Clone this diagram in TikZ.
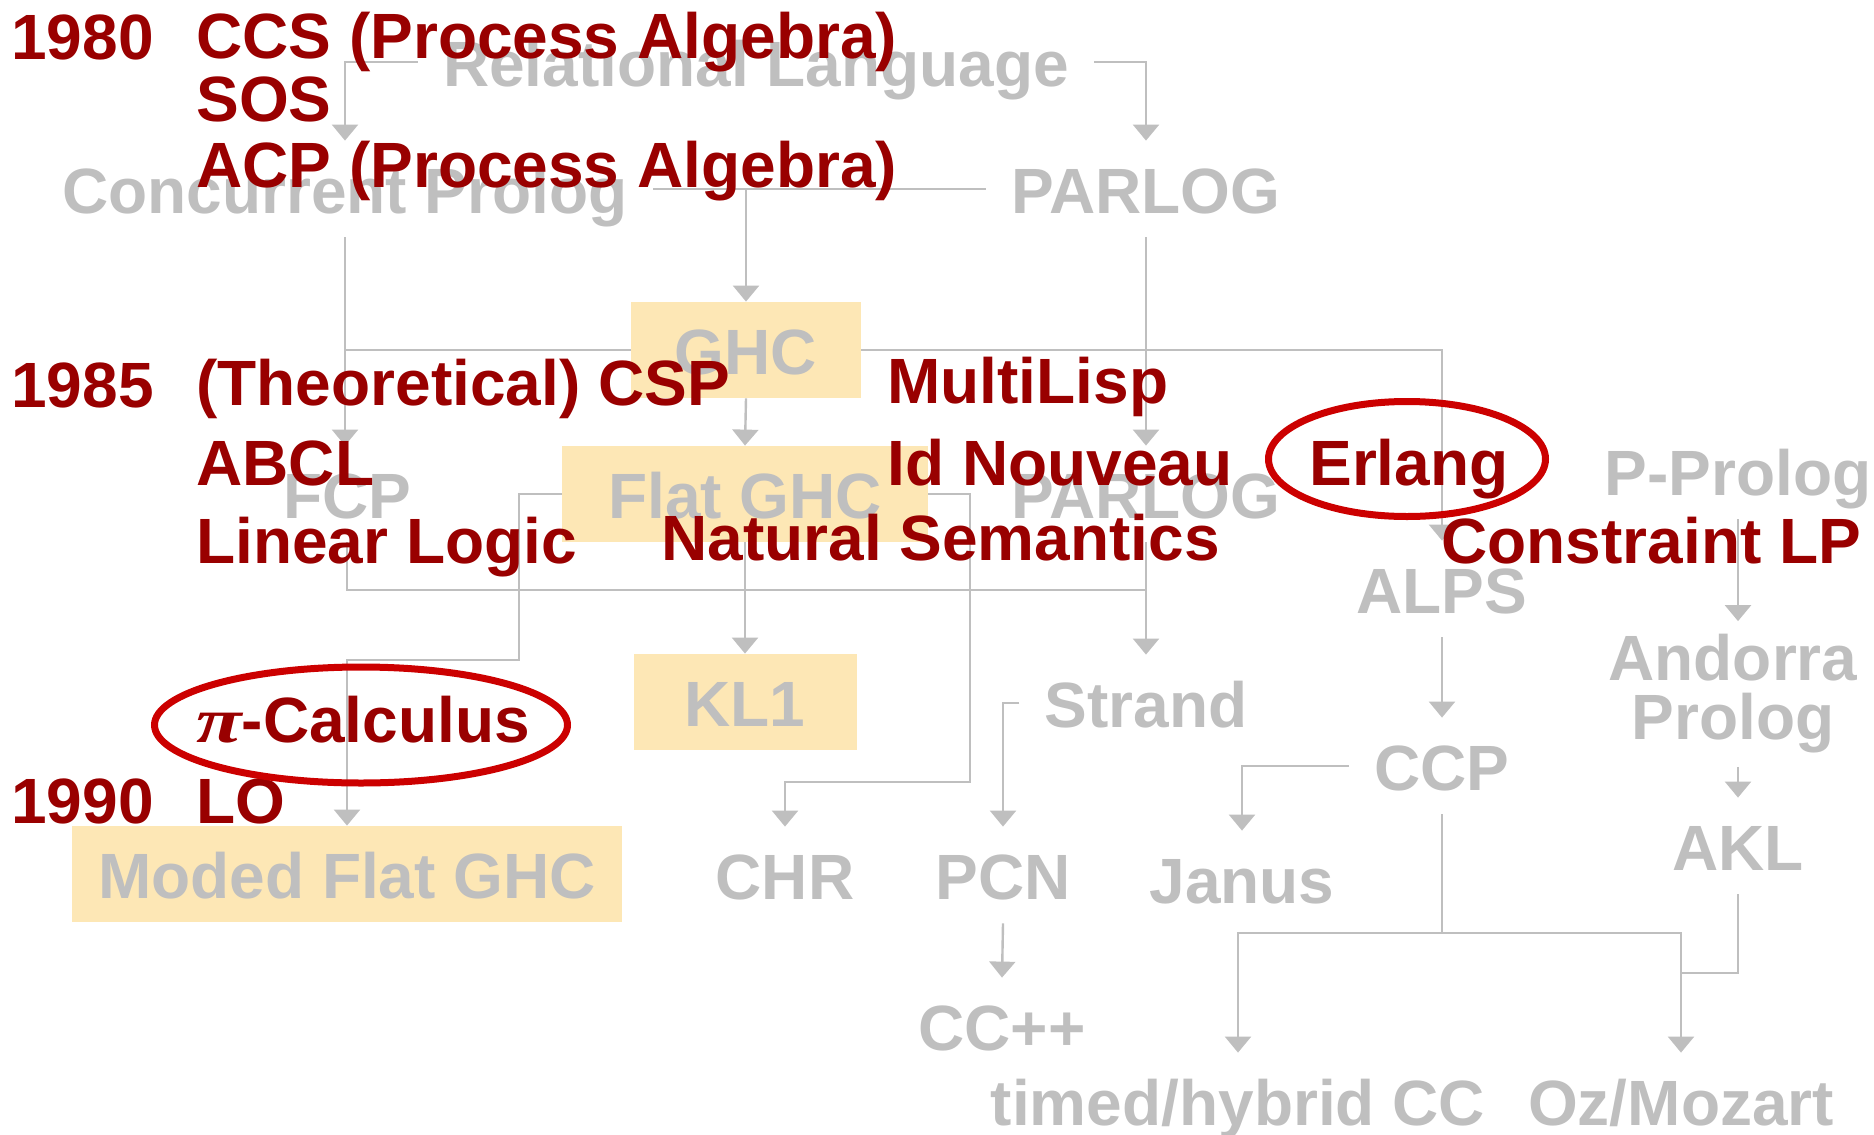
\documentclass[tikz,border=0pt]{standalone}
\usepackage{fontspec}
\setmainfont{Liberation Sans}
\newfontfamily\pifont{Liberation Serif}
\usetikzlibrary{arrows.meta,shapes.geometric,backgrounds}
\definecolor{langgray}{RGB}{191,191,191}
\definecolor{eventred}{RGB}{153,0,0}
\definecolor{ringred}{RGB}{204,0,0}
\definecolor{boxfill}{RGB}{253,231,181}

\begin{document}
\begin{tikzpicture}[x=0.5pt, y=-0.5pt,
    font=\fontsize{32pt}{29.5pt}\selectfont\bfseries,
    >={Triangle[width=13pt,length=8pt]},
    lang/.style={text=langgray, inner xsep=12.5pt, inner ysep=0pt,
      text height=36pt, text depth=12pt, anchor=base},
    hist/.style={lang, fill=boxfill},
    event/.style={text=eventred, inner sep=0pt, anchor=base west},
    link/.style={draw=langgray, line width=1.2pt},
    ring/.style={draw=ringred, line width=3.5pt, ellipse, inner sep=0pt}]
  \useasboundingbox (0,0) rectangle (1874,1135);

  % languages
  \node[lang] (rel) at (756,86) {Relational Language};
  \node[lang] (cp) at (345,213) {Concurrent Prolog};
  \node[lang] (parlog) at (1146,213) {PARLOG};
  \node[hist, minimum width=115pt] (ghc) at (746,374) {GHC};
  \node[lang] (fcp) at (347,518) {FCP};
  \node[hist, minimum width=183pt] (fghc) at (745,518) {Flat GHC};
  \node[lang] (parlogb) at (1146,518) {PARLOG};
  \node[lang] (pprolog) at (1738,495) {P-Prolog};
  \node[lang] (alps) at (1442,613) {ALPS};
  \node[hist, minimum width=111.5pt] (kl1) at (745,726) {KL1};
  \node[lang] (strand) at (1146,727) {Strand};
  \node[text=langgray, align=center, inner xsep=12.5pt, inner ysep=6.5pt]
    (andorra) at (1733,694) {Andorra\\Prolog};
  \node[lang] (ccp) at (1442,790) {CCP};
  \node[hist, minimum width=275pt] (moded) at (347,898) {Moded Flat GHC};
  \node[lang] (chr) at (785,899) {CHR};
  \node[lang] (pcn) at (1003,899) {PCN};
  \node[lang] (janus) at (1242,903) {Janus};
  \node[lang] (akl) at (1738,870) {AKL};
  \node[lang] (ccpp) at (1002,1050) {CC++};
  \node[lang] (timed) at (1238,1125) {timed/hybrid CC};
  \node[lang] (oz) at (1681,1125) {Oz/Mozart};

  \coordinate (fcpjoin) at (1146,590);
  \coordinate (modedbend) at (519,660);
  \coordinate (chrbend) at (970,782);
  \coordinate (ccpbus) at (1442,933);
  \coordinate (akljoin) at (1681,973);

  \begin{scope}[on background layer]
    \draw[link,->] (rel.west) -| (cp.north);
    \draw[link,->] (rel.east) -| (parlog.north);
    \draw[link] (cp.east) -- (parlog.west);
    \draw[link,->] (cp.east -| ghc.north) -- (ghc.north);
    \draw[link,->] (cp.south) -- (cp.south |- fcp.north);
    \draw[link,->] (cp.south |- ghc.center) -| (alps.north);
    \draw[link,->] (parlog.south) -- (parlogb.north);
    \draw[link,->] (ghc.south) -- (fghc.north);
    \draw[link,->] (fghc.south) -- (kl1.north);
    \draw[link] (fcp.south) |- (fcpjoin);
    \draw[link,->] (parlogb.south) -- (strand.north);
    \draw[link,->] (fghc.west) -| (modedbend) -| (moded.north);
    \draw[link,->] (fghc.east) -| (chrbend) -| (chr.north);
    \draw[link,->] (strand.west) -| (pcn.north);
    \draw[link,->] (pcn.south) -- (ccpp.north);
    \draw[link,->] (alps.south) -- (ccp.north);
    \draw[link,->] (ccp.west) -| (janus.north);
    \draw[link] (ccp.south) -- (ccpbus);
    \draw[link,->] (ccpbus) -| (timed.north);
    \draw[link,->] (ccpbus) -| (oz.north);
    \draw[link,->] (pprolog.south) -- (pprolog.south |- andorra.north);
    \draw[link,->] (akl.north |- andorra.south) -- (akl.north);
    \draw[link] (akl.south) |- (akljoin);
  \end{scope}

  % events
  \node[event] (y1980) at (11,59) {1980};
  \node[event] (ccs) at (196,58) {CCS (Process Algebra)};
  \node[event] (sos) at (196,121) {SOS};
  \node[event] (acp) at (196,187) {ACP (Process Algebra)};
  \node[event] (y1985) at (11,407) {1985};
  \node[event] (csp) at (196,405) {(Theoretical) CSP};
  \node[event] (multilisp) at (887,403) {MultiLisp};
  \node[event] (abcl) at (196,485) {ABCL};
  \node[event] (idnouveau) at (887,485) {Id Nouveau};
  \node[event] (erlang) at (1309,485) {Erlang};
  \node[event] (linlogic) at (196,563) {Linear Logic};
  \node[event] (natsem) at (661,560) {Natural Semantics};
  \node[event] (clp) at (1441,563) {Constraint LP};
  \node[event] (picalc) at (196,742) {\scalebox{1.3}[1]{\pifont\itshape π}-Calculus};
  \node[event] (y1990) at (11,823) {1990};
  \node[event] (lo) at (196,823) {LO};

  \node[ring, minimum width=138.5pt, minimum height=57.5pt] (erlangring) at (1407,459) {};
  \node[ring, minimum width=206.5pt, minimum height=58pt] (piring) at (361,725) {};
\end{tikzpicture}
\end{document}
